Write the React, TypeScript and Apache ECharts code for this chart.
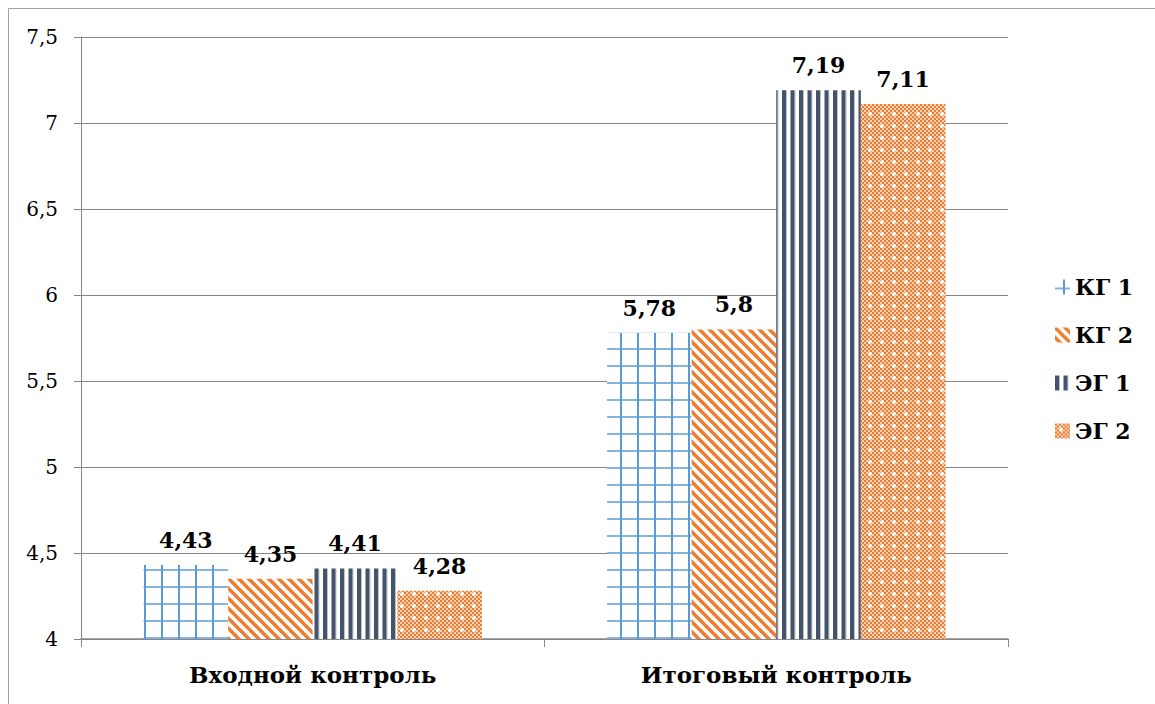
import React, { useEffect, useRef } from "react";
import * as echarts from "echarts";

const categories = ["Входной контроль", "Итоговый контроль"];
const seriesNames = ["КГ 1", "КГ 2", "ЭГ 1", "ЭГ 2"];
const kg1 = [4.43, 5.78];
const kg2 = [4.35, 5.8];
const eg1 = [4.41, 7.19];
const eg2 = [4.28, 7.11];
const yTicks = { min: 4, max: 7.5, interval: 0.5 };

const FONT = "DejaVu Serif";
const BLUE = "#5B9BD5";
const ORANGE = "#ED7D31";
const SLATE = "#44546A";

function makeTile(w: number, h: number, draw: (ctx: CanvasRenderingContext2D) => void) {
  const c = document.createElement("canvas");
  c.width = w;
  c.height = h;
  const ctx = c.getContext("2d")!;
  ctx.fillStyle = "#ffffff";
  ctx.fillRect(0, 0, w, h);
  draw(ctx);
  return { image: c.toDataURL(), imageWidth: w, imageHeight: h, repeat: "repeat" };
}

function gridPattern() {
  return makeTile(17, 17, (ctx) => {
    ctx.fillStyle = "rgba(91,155,213,0.75)";
    ctx.fillRect(0, 8, 17, 2);
    ctx.fillStyle = BLUE;
    ctx.fillRect(8, 0, 2, 17);
  });
}

function diagPattern() {
  return makeTile(10, 10, (ctx) => {
    ctx.strokeStyle = ORANGE;
    ctx.lineWidth = 3.6;
    for (let k = -2; k <= 2; k++) {
      ctx.beginPath();
      ctx.moveTo(k * 10 - 5, -5);
      ctx.lineTo(k * 10 + 15, 15);
      ctx.stroke();
    }
  });
}

function vertPattern() {
  return makeTile(17, 10, (ctx) => {
    ctx.fillStyle = SLATE;
    ctx.fillRect(0, 0, 4, 10);
    ctx.fillRect(8.5, 0, 4, 10);
    ctx.fillStyle = "rgba(68,84,106,0.35)";
    ctx.fillRect(4, 0, 1, 10);
    ctx.fillRect(12.5, 0, 1, 10);
  });
}

function checkPattern() {
  return makeTile(12, 12, (ctx) => {
    for (let y = 0; y < 12; y += 2) {
      for (let x = 0; x < 12; x += 2) {
        if (((x + y) / 2) % 2 === 0) {
          ctx.fillStyle = ORANGE;
          ctx.fillRect(x, y, 2, 2);
        } else {
          ctx.fillStyle = "rgba(237,125,49,0.35)";
          ctx.fillRect(x, y, 2, 2);
        }
      }
    }
    ctx.fillStyle = "#ffffff";
    ctx.fillRect(4, 5, 4, 2);
    ctx.fillRect(5, 4, 2, 4);
  });
}

const fmt = (v: number) => String(v).replace(".", ",");

export default function App() {
  const ref = useRef<HTMLDivElement>(null);
  useEffect(() => {
    if (!ref.current) return;
    const chart = echarts.init(ref.current, null, { renderer: "svg" });
    const patterns = [gridPattern(), diagPattern(), vertPattern(), checkPattern()];
    const datas = [kg1, kg2, eg1, eg2];
    const option: any = {
      animation: false,
      backgroundColor: "#ffffff",
      textStyle: { fontFamily: FONT },
      grid: { left: 81, right: 147, top: 37, bottom: 65, containLabel: false },
      legend: {
        orient: "vertical",
        left: 1050,
        top: 271,
        itemWidth: 15,
        itemHeight: 15,
        itemGap: 26,
        itemStyle: { borderWidth: 0 },
        icon: "rect",
        textStyle: { fontFamily: FONT, fontSize: 22, fontWeight: "bold", color: "#000" },
        data: seriesNames,
      },
      xAxis: {
        type: "category",
        data: categories,
        axisLine: { lineStyle: { color: "#868686", width: 1.5 } },
        axisTick: { show: true, length: 8, lineStyle: { color: "#868686" } },
        axisLabel: {
          margin: 24,
          fontFamily: FONT,
          fontSize: 23,
          fontWeight: "bold",
          color: "#000",
        },
      },
      yAxis: {
        type: "value",
        min: yTicks.min,
        max: yTicks.max,
        interval: yTicks.interval,
        axisLine: { show: true, lineStyle: { color: "#868686" } },
        axisTick: { show: true, length: 7, lineStyle: { color: "#868686" } },
        splitLine: { show: true, lineStyle: { color: "#868686" } },
        axisLabel: {
          margin: 23,
          fontFamily: FONT,
          fontSize: 20,
          color: "#000",
          formatter: (v: number) => fmt(v),
        },
      },
      series: seriesNames.map((name, i) => ({
        name,
        type: "bar",
        data: datas[i],
        barGap: "0%",
        barCategoryGap: "27%",
        itemStyle: { color: patterns[i] },
        label: {
          show: true,
          position: "top",
          distance: 14,
          fontFamily: FONT,
          fontSize: 22,
          fontWeight: "bold",
          color: "#000",
          formatter: (p: any) => fmt(p.value),
        },
      })),
      graphic: [
        {
          type: "line",
          shape: { x1: 8.5, y1: 8.5, x2: 1155, y2: 8.5 },
          style: { stroke: "#a0a0a0", lineWidth: 1 },
        },
        {
          type: "line",
          shape: { x1: 8.5, y1: 8.5, x2: 8.5, y2: 704 },
          style: { stroke: "#a0a0a0", lineWidth: 1 },
        },
      ],
    };
    chart.setOption(option);
    return () => chart.dispose();
  }, []);
  return (
    <div
      ref={ref}
      style={{ position: "absolute", left: 0, top: 0, width: 1155, height: 704 }}
    />
  );
}
